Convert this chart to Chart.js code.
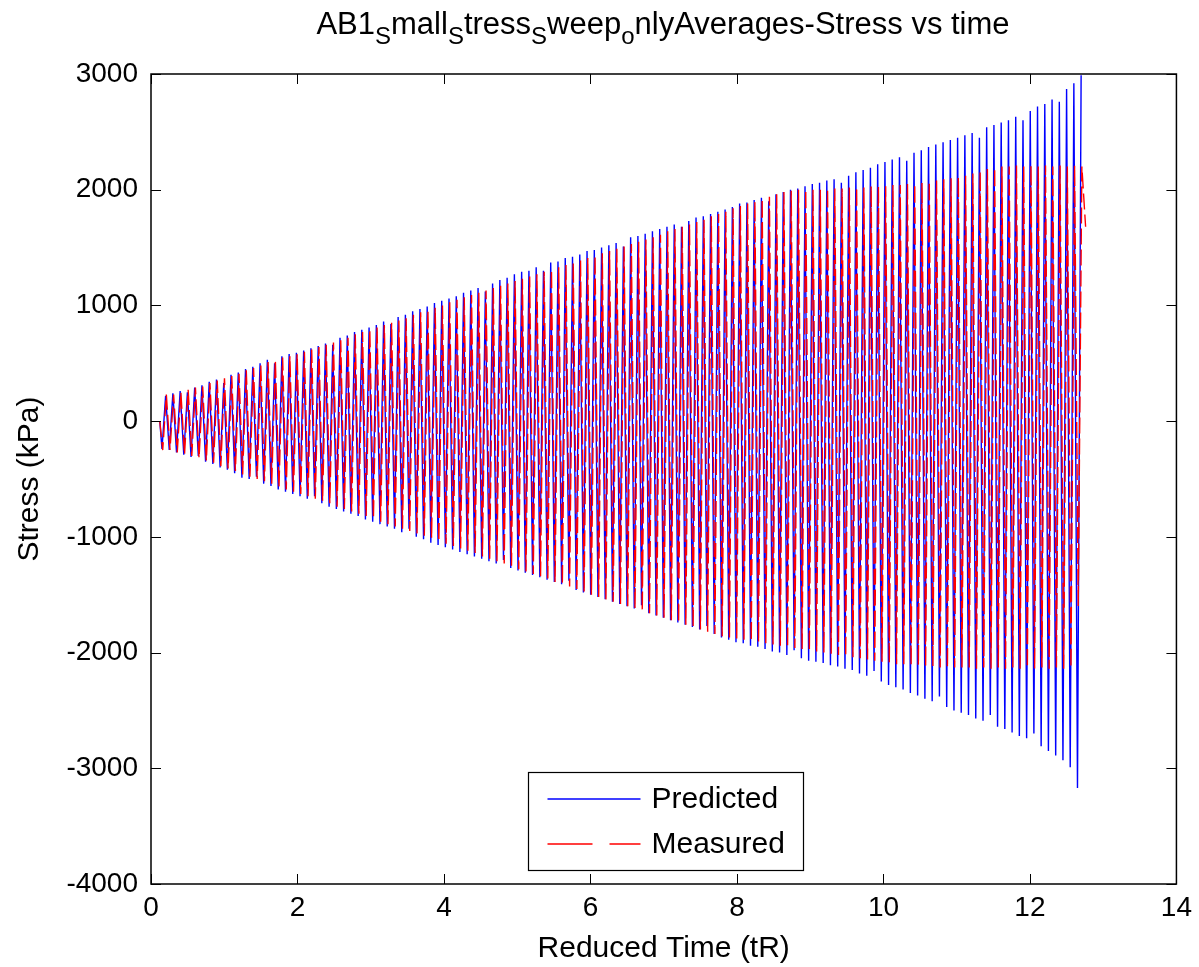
<!DOCTYPE html>
<html>
<head>
<meta charset="utf-8">
<script src="https://cdn.jsdelivr.net/npm/chart.js@4.4.1/dist/chart.umd.min.js"></script>
<style>
html, body { margin: 0; padding: 0; background: #fff; }
#wrap { position: relative; width: 1199px; height: 967px; }
#title {
  position: absolute; left: 151px; width: 1024px; top: 6px;
  text-align: center; white-space: nowrap; color: #000;
  font: 31px "Liberation Sans", Arial, Helvetica, sans-serif;
}
#title sub { font-size: 24px; vertical-align: -10px; line-height: 0; }
</style>
</head>
<body>
<div id="wrap">
  <div id="title">AB1<sub>S</sub>mall<sub>S</sub>tress<sub>S</sub>weep<sub>o</sub>nlyAverages-Stress vs time</div>
  <canvas id="chart" width="1199" height="967"></canvas>
</div>
<script>
// time grid of the sweep: one trough + one peak per cycle
const t0 = 0.15;
const period = 0.0992;
const measLag = 0.01;
const startPoint = [0.12, 0];
const measTail = [12.76, 1680];

const seriesNames = ['Predicted', 'Measured'];
const seriesColors = ['#0000ff', '#ff0000'];
const xTicks = [0, 2, 4, 6, 8, 10, 12, 14];
const yTicks = [-4000, -3000, -2000, -1000, 0, 1000, 2000, 3000];

// Predicted (kPa): peaks and troughs per cycle
const predHi = [
  220, 240, 260, 250, 290, 310, 340, 360, 330, 400,
  420, 450, 470, 500, 530, 500, 560, 580, 590, 610,
  630, 650, 670, 660, 720, 740, 770, 790, 810, 830,
  860, 840, 900, 920, 950, 970, 990, 1020, 1040, 1060,
  1080, 1110, 1130, 1150, 1120, 1190, 1220, 1240, 1270, 1290,
  1300, 1330, 1300, 1370, 1380, 1410, 1420, 1440, 1470, 1480,
  1500, 1520, 1540, 1510, 1590, 1600, 1620, 1640, 1660, 1680,
  1700, 1680, 1730, 1760, 1770, 1790, 1810, 1830, 1850, 1880,
  1890, 1910, 1930, 1900, 1960, 1980, 2000, 2010, 2030, 2050,
  2060, 2080, 2090, 2060, 2120, 2150, 2170, 2190, 2220, 2240,
  2260, 2280, 2250, 2320, 2340, 2370, 2390, 2410, 2430, 2450,
  2470, 2490, 2450, 2540, 2560, 2580, 2600, 2630, 2600, 2680,
  2720, 2740, 2780, 2760, 2870, 2920, 2990
];
const predLo = [
  -240, -250, -270, -290, -310, -300, -350, -370, -400, -420,
  -450, -490, -500, -480, -540, -560, -590, -610, -630, -650,
  -670, -650, -710, -740, -760, -780, -800, -820, -850, -870,
  -890, -910, -930, -960, -930, -1000, -1020, -1050, -1070, -1090,
  -1110, -1130, -1150, -1170, -1190, -1210, -1230, -1200, -1270, -1290,
  -1310, -1330, -1350, -1370, -1390, -1410, -1380, -1460, -1480, -1500,
  -1520, -1540, -1560, -1580, -1600, -1620, -1590, -1660, -1680, -1700,
  -1720, -1740, -1760, -1780, -1800, -1770, -1840, -1870, -1890, -1910,
  -1920, -1940, -1950, -1970, -1990, -2000, -2020, -1980, -2050, -2070,
  -2080, -2090, -2110, -2120, -2140, -2150, -2180, -2200, -2160, -2250,
  -2280, -2300, -2320, -2350, -2370, -2400, -2420, -2380, -2470, -2500,
  -2520, -2540, -2570, -2590, -2540, -2640, -2660, -2690, -2720, -2740,
  -2700, -2810, -2850, -2890, -2930, -2990, -3170
];

// Measured (kPa): peaks and troughs per cycle
const measHi = [
  230, 230, 250, 270, 290, 300, 330, 350, 370, 390,
  410, 440, 460, 480, 510, 530, 550, 560, 580, 600,
  620, 640, 660, 680, 700, 720, 750, 770, 790, 810,
  830, 850, 870, 890, 920, 940, 960, 980, 1000, 1030,
  1050, 1070, 1090, 1110, 1130, 1150, 1170, 1190, 1210, 1230,
  1250, 1270, 1290, 1310, 1330, 1350, 1370, 1390, 1410, 1430,
  1450, 1470, 1490, 1510, 1530, 1550, 1570, 1590, 1610, 1640,
  1660, 1680, 1700, 1720, 1740, 1770, 1790, 1810, 1840, 1860,
  1880, 1900, 1920, 1940, 1960, 1980, 1990, 2000, 2000, 2000,
  2000, 2010, 2010, 2010, 2020, 2020, 2020, 2030, 2030, 2030,
  2040, 2040, 2050, 2050, 2060, 2070, 2080, 2090, 2100, 2110,
  2120, 2140, 2160, 2180, 2190, 2200, 2200, 2210, 2200, 2210,
  2200, 2210, 2200, 2210, 2200, 2210, 2200
];
const measLo = [
  -250, -250, -270, -290, -300, -320, -340, -360, -390, -410,
  -430, -460, -480, -500, -520, -540, -570, -590, -610, -630,
  -650, -670, -690, -710, -740, -760, -780, -800, -820, -840,
  -870, -890, -910, -930, -950, -970, -990, -1010, -1040, -1060,
  -1080, -1100, -1120, -1140, -1170, -1190, -1210, -1230, -1250, -1280,
  -1300, -1320, -1340, -1360, -1390, -1410, -1430, -1450, -1480, -1500,
  -1520, -1540, -1560, -1580, -1600, -1620, -1640, -1660, -1680, -1700,
  -1720, -1740, -1760, -1780, -1800, -1820, -1840, -1860, -1870, -1880,
  -1890, -1900, -1910, -1920, -1930, -1940, -1950, -1960, -1970, -1980,
  -1990, -2000, -2010, -2020, -2030, -2040, -2050, -2060, -2070, -2080,
  -2090, -2100, -2100, -2110, -2110, -2120, -2120, -2130, -2130, -2130,
  -2130, -2130, -2140, -2130, -2140, -2130, -2140, -2130, -2140, -2130,
  -2140, -2130, -2140, -2130, -2140, -2130, -1600
];

const FONT = '"Liberation Sans", Arial, Helvetica, sans-serif';

function buildSeries(lo, hi, shift, tail) {
  const pts = [{x: startPoint[0], y: startPoint[1]}];
  for (let k = 0; k < lo.length; k++) {
    pts.push({x: t0 + k * period + shift, y: lo[k]});
    pts.push({x: t0 + (k + 0.5) * period + shift, y: hi[k]});
  }
  if (tail) pts.push({x: tail[0], y: tail[1]});
  return pts;
}

// box round the axes with inward ticks on all four sides
const framePlugin = {
  id: 'frame',
  afterDraw(chart) {
    const {ctx, chartArea: a, scales} = chart;
    const len = 10;
    ctx.save();
    ctx.strokeStyle = '#000';
    ctx.lineWidth = 1;
    xTicks.forEach(v => {
      const px = Math.round(scales.x.getPixelForValue(v)) + 0.5;
      ctx.beginPath();
      ctx.moveTo(px, a.bottom); ctx.lineTo(px, a.bottom - len);
      ctx.moveTo(px, a.top); ctx.lineTo(px, a.top + len);
      ctx.stroke();
    });
    yTicks.forEach(v => {
      const py = Math.round(scales.y.getPixelForValue(v)) + 0.5;
      ctx.beginPath();
      ctx.moveTo(a.left, py); ctx.lineTo(a.left + len, py);
      ctx.moveTo(a.right, py); ctx.lineTo(a.right - len, py);
      ctx.stroke();
    });
    ctx.lineWidth = 1.5;
    ctx.strokeRect(a.left, a.top, a.right - a.left, a.bottom - a.top);
    ctx.restore();
  }
};

// MATLAB style legend box inside the axes
const legendBox = {
  id: 'legendBox',
  afterDraw(chart) {
    const {ctx, chartArea: a} = chart;
    const w = 275, h = 98;
    const left = Math.round((a.left + a.right) / 2 - w / 2) + 2.5;
    const top = Math.round(a.bottom - 14 - h) + 0.5;
    ctx.save();
    ctx.fillStyle = '#fff';
    ctx.fillRect(left, top, w, h);
    ctx.strokeStyle = '#000';
    ctx.lineWidth = 1.2;
    ctx.strokeRect(left, top, w, h);
    seriesNames.forEach((name, i) => {
      const y = Math.round(top + 26 + i * 45);
      ctx.strokeStyle = seriesColors[i];
      ctx.lineWidth = 1.5;
      ctx.setLineDash(i === 1 ? [45, 17] : []);
      ctx.beginPath();
      ctx.moveTo(left + 19, y); ctx.lineTo(left + 112, y);
      ctx.stroke();
      ctx.setLineDash([]);
      ctx.fillStyle = '#000';
      ctx.font = '30px ' + FONT;
      ctx.textBaseline = 'middle';
      ctx.fillText(name, left + 123, y + 1);
    });
    ctx.restore();
  }
};

new Chart(document.getElementById('chart'), {
  type: 'line',
  data: {
    datasets: [{
      label: seriesNames[0],
      data: buildSeries(predLo, predHi, 0),
      borderColor: seriesColors[0],
      borderWidth: 1.4,
      pointRadius: 0,
      tension: 0,
      order: 2
    }, {
      label: seriesNames[1],
      data: buildSeries(measLo, measHi, measLag, measTail),
      borderColor: seriesColors[1],
      borderWidth: 1.4,
      borderDash: [16, 5],
      pointRadius: 0,
      tension: 0,
      order: 1
    }]
  },
  options: {
    responsive: false,
    animation: false,
    layout: { padding: { top: 74, right: 18, left: 0, bottom: 0 } },
    plugins: {
      legend: { display: false },
      tooltip: { enabled: false }
    },
    scales: {
      x: {
        type: 'linear',
        min: 0,
        max: 14,
        afterBuildTicks: s => { s.ticks = xTicks.map(v => ({value: v})); },
        afterFit: s => { s.height = 83; },
        ticks: { color: '#000', font: { family: FONT, size: 28 }, padding: 7, maxRotation: 0,
                 callback: v => String(v) },
        grid: { display: false, drawTicks: false },
        border: { display: false },
        title: { display: true, text: 'Reduced Time (tR)', color: '#000',
                 font: { family: FONT, size: 30 }, padding: { bottom: 0 } }
      },
      y: {
        min: -4000,
        max: 3000,
        afterBuildTicks: s => { s.ticks = yTicks.map(v => ({value: v})); },
        afterFit: s => { s.width = 151; },
        ticks: { color: '#000', font: { family: FONT, size: 28 }, padding: 13,
                 callback: v => String(v) },
        grid: { display: false, drawTicks: false },
        border: { display: false },
        title: { display: true, text: 'Stress (kPa)', color: '#000',
                 font: { family: FONT, size: 30 }, padding: { top: 12 } }
      }
    }
  },
  plugins: [framePlugin, legendBox]
});
</script>
</body>
</html>
